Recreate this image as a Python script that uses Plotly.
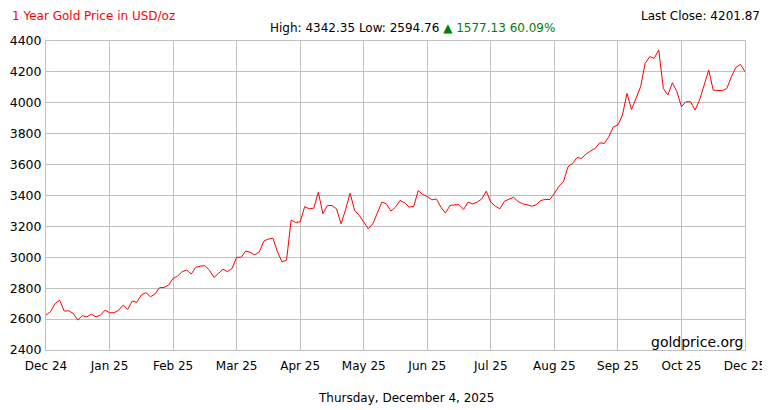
import plotly.graph_objects as go

# price (USD/oz), evenly spaced trading sessions over one year
prices = [2626,2648,2700,2723,2652,2654,2637,2594,2622,2615,2632,2615,2626,2658,2641,2641,2658,2691,2663,2717,2708,2756,2771,2745,2762,2803,2805,2820,2863,2879,2907,2917,2892,2935,2943,2946,2917,2870,2896,2922,2907,2928,3000,3000,3041,3032,3015,3036,3105,3118,3123,3036,2970,2982,3241,3226,3230,3328,3314,3318,3421,3282,3335,3335,3314,3217,3308,3415,3303,3271,3228,3185,3217,3292,3357,3346,3299,3325,3368,3353,3325,3329,3432,3406,3394,3372,3378,3325,3286,3335,3340,3340,3310,3357,3346,3357,3378,3428,3357,3331,3314,3363,3374,3389,3361,3346,3340,3331,3340,3368,3374,3374,3413,3460,3489,3586,3607,3646,3640,3668,3689,3705,3741,3737,3780,3845,3856,3921,4061,3957,4029,4104,4255,4299,4288,4342,4093,4050,4130,4072,3975,4007,4007,3953,4018,4115,4212,4082,4078,4078,4093,4169,4229,4249,4201]
tick_labels = ["Dec 24","Jan 25","Feb 25","Mar 25","Apr 25","May 25","Jun 25","Jul 25","Aug 25","Sep 25","Oct 25","Dec 25"]
y_ticks = [2400,2600,2800,3000,3200,3400,3600,3800,4000,4200,4400]

N = len(prices) - 1
days = [i for i in range(len(prices))]
n = len(tick_labels)
tickvals = [N*i/(n-1) for i in range(n)]

fig = go.Figure(go.Scatter(x=days, y=prices, mode="lines", line=dict(color="#ff0000", width=1), hoverinfo="skip"))
fnt = "DejaVu Sans, Verdana, sans-serif"
fig.update_layout(
    width=762, height=402, margin=dict(l=38, r=25, t=33, b=60, autoexpand=False),
    paper_bgcolor="white", plot_bgcolor="white", showlegend=False,
    font=dict(family=fnt, size=12, color="#000"),
    xaxis=dict(range=[0,N], tickvals=tickvals, ticktext=tick_labels, showgrid=True, automargin=False,
               gridcolor="#c0c0c0", gridwidth=1, zeroline=False, showline=True, linecolor="#c0c0c0", mirror=True,
               tickfont=dict(size=12), ticks="outside", ticklen=5, tickcolor="rgba(0,0,0,0)"),
    yaxis=dict(range=[2400,4400], tickvals=y_ticks, showgrid=True, gridcolor="#c0c0c0", zeroline=False, automargin=False,
               showline=True, linecolor="#c0c0c0", mirror=True, tickfont=dict(size=12.5), ticks="outside", ticklen=1, tickcolor="rgba(0,0,0,0)"),
)
def px(x): return (x-46)/699
def py(y): return (350-y)/309
A = []
A.append(dict(text="1 Year Gold Price in USD/oz", x=px(10), y=py(16), xanchor="left", yanchor="middle", font=dict(color="#ff0000", size=12)))
A.append(dict(text="Last Close: 4201.87", x=px(762), y=py(16), xanchor="right", yanchor="middle", font=dict(size=12)))
A.append(dict(text="High: 4342.35 Low: 2594.76 <span style='color:#008000'>▲ 1577.13 60.09%</span>", x=px(557), y=py(28), xanchor="right", yanchor="middle", font=dict(size=12)))
A.append(dict(text="goldprice.org", x=px(745), y=py(342), xanchor="right", yanchor="middle", font=dict(size=14)))
A.append(dict(text="Thursday, December 4, 2025", x=px(406), y=py(398), xanchor="center", yanchor="middle", font=dict(size=12)))
for a in A:
    a.update(showarrow=False, xref="paper", yref="paper")
fig.update_layout(annotations=A)
fig.write_html("out.html")
